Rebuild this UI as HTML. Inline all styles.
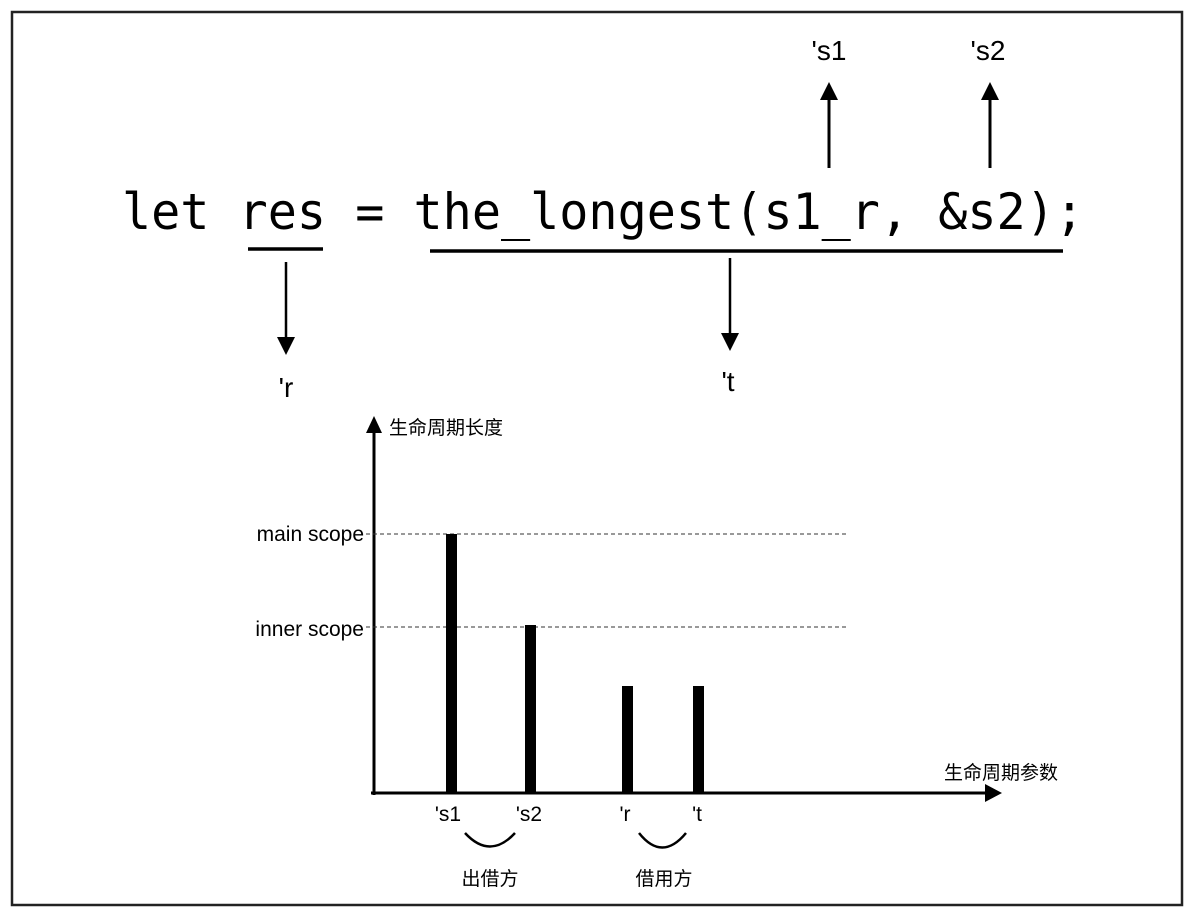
<!DOCTYPE html>
<html><head><meta charset="utf-8"><style>
html,body{margin:0;padding:0;background:#fff;}
svg{display:block;}
.m{font-family:"DejaVu Sans Mono","Liberation Mono",monospace;}
.s{font-family:"Liberation Sans","Noto Sans CJK SC",sans-serif;}
</style></head><body>
<svg width="1193" height="916" viewBox="0 0 1193 916" xmlns="http://www.w3.org/2000/svg">
<rect x="12" y="12" width="1170" height="893" fill="#fff" stroke="#222" stroke-width="2.5"/>
<text class="s" x="829" y="60" font-size="28" text-anchor="middle">'s1</text>
<text class="s" x="988" y="60" font-size="28" text-anchor="middle">'s2</text>
<line x1="829" y1="168" x2="829" y2="96" stroke="#000" stroke-width="3"/>
<path d="M820,100 L829,82 L838,100 z"/>
<line x1="990" y1="168" x2="990" y2="96" stroke="#000" stroke-width="3"/>
<path d="M981,100 L990,82 L999,100 z"/>
<text class="m" x="122" y="229" font-size="50" textLength="962" lengthAdjust="spacingAndGlyphs">let res = the_longest(s1_r, &amp;s2);</text>
<line x1="248" y1="249" x2="323" y2="249" stroke="#000" stroke-width="3.5"/>
<line x1="430" y1="251" x2="1063" y2="251" stroke="#000" stroke-width="3.5"/>
<line x1="286" y1="262" x2="286" y2="340" stroke="#000" stroke-width="2.5"/>
<path d="M277,337 L286,355 L295,337 z"/>
<line x1="730" y1="258" x2="730" y2="336" stroke="#000" stroke-width="2.5"/>
<path d="M721,333 L730,351 L739,333 z"/>
<text class="s" x="286" y="397" font-size="28" text-anchor="middle">'r</text>
<text class="s" x="728" y="391" font-size="28" text-anchor="middle">'t</text>
<line x1="374" y1="795" x2="374" y2="430" stroke="#000" stroke-width="3"/>
<path d="M366,433 L374,416 L382,433 z"/>
<text class="s" x="389" y="434" font-size="19">生命周期长度</text>
<line x1="371" y1="793" x2="988" y2="793" stroke="#000" stroke-width="3"/>
<path d="M985,784 L1002,793 L985,802 z"/>
<text class="s" x="1058" y="779" font-size="19" text-anchor="end">生命周期参数</text>
<line x1="366" y1="534" x2="846" y2="534" stroke="#333" stroke-width="1" stroke-dasharray="4,3"/>
<line x1="366" y1="627" x2="846" y2="627" stroke="#333" stroke-width="1" stroke-dasharray="4,3"/>
<text class="s" x="364" y="541" font-size="21" text-anchor="end">main scope</text>
<text class="s" x="364" y="636" font-size="21" text-anchor="end">inner scope</text>
<rect x="446" y="534" width="11" height="259"/>
<rect x="525" y="625" width="11" height="168"/>
<rect x="622" y="686" width="11" height="107"/>
<rect x="693" y="686" width="11" height="107"/>
<text class="s" x="448" y="821" font-size="21" text-anchor="middle">'s1</text>
<text class="s" x="529" y="821" font-size="21" text-anchor="middle">'s2</text>
<text class="s" x="625" y="821" font-size="21" text-anchor="middle">'r</text>
<text class="s" x="697" y="821" font-size="21" text-anchor="middle">'t</text>
<path d="M465,833 Q490,860 515,833" fill="none" stroke="#000" stroke-width="2.5"/>
<path d="M639,833 Q662,862 686,833" fill="none" stroke="#000" stroke-width="2.5"/>
<text class="s" x="490" y="885" font-size="19" text-anchor="middle">出借方</text>
<text class="s" x="664" y="885" font-size="19" text-anchor="middle">借用方</text>
</svg>
</body></html>
